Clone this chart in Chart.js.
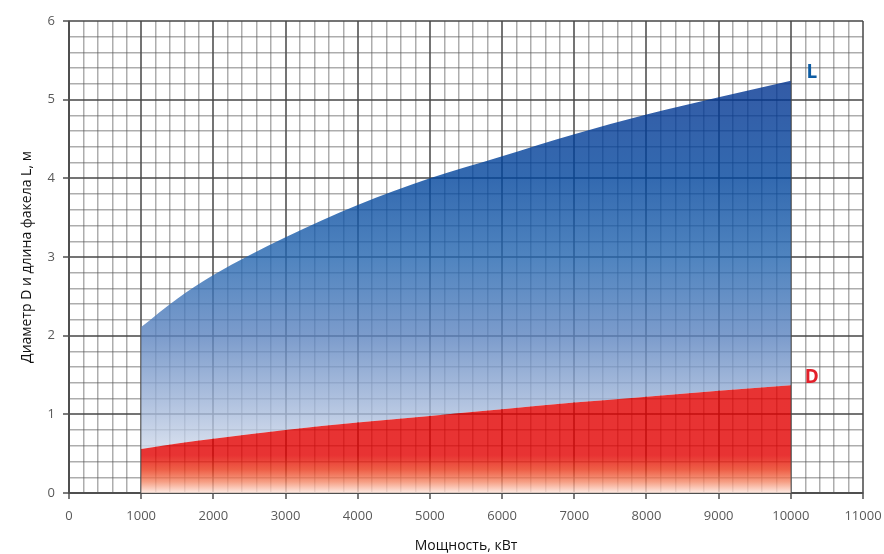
<!DOCTYPE html>
<html>
<head>
<meta charset="utf-8">
<script src="https://cdn.jsdelivr.net/npm/chart.js@4.4.1/dist/chart.umd.min.js"></script>
<style>
  html, body { margin: 0; padding: 0; background: #ffffff; }
  #wrap { width: 884px; height: 554px; position: relative; }
</style>
</head>
<body>
<div id="wrap"><canvas id="c" width="884" height="554"></canvas></div>
<script>
// Power, kW
const power = [1000, 1500, 2000, 3000, 4000, 5000, 6000, 7000, 8000, 9000, 10000];
// Flame length L, m
const lengthL = [2.11, 2.47, 2.77, 3.25, 3.66, 4.0, 4.28, 4.56, 4.81, 5.03, 5.24];
// Flame diameter D, m
const diameterD = [0.56, 0.63, 0.69, 0.80, 0.895, 0.98, 1.065, 1.15, 1.225, 1.30, 1.37];
const xTickLabels = ['0','1000','2000','3000','4000','5000','6000','7000','8000','9000','10000','11000'];
const yTickLabels = ['0','1','2','3','4','5','6'];
const seriesNames = ['L', 'D'];

const FILL_ALPHA = 0.8;

function isMajor(v, step) {
  const r = v / step;
  return Math.abs(r - Math.round(r)) < 1e-6;
}

// translucent colour that looks like `hex` over white, so the grid shows through
function seeThrough(hex) {
  const n = parseInt(hex.slice(1), 16);
  const ch = [(n >> 16) & 255, (n >> 8) & 255, n & 255].map(t =>
    Math.round(Math.max(0, Math.min(255, (t - 255 * (1 - FILL_ALPHA)) / FILL_ALPHA))));
  return `rgba(${ch[0]},${ch[1]},${ch[2]},${FILL_ALPHA})`;
}

function makeGradient(ctx, stops) {
  const chart = ctx.chart;
  const area = chart.chartArea;
  if (!area) return null;
  const y = chart.scales.y;
  const top = y.getPixelForValue(stops[0][0]);
  const bot = y.getPixelForValue(stops[stops.length - 1][0]);
  const g = chart.ctx.createLinearGradient(0, top, 0, bot);
  for (const [v, c] of stops) {
    const p = (y.getPixelForValue(v) - top) / (bot - top);
    g.addColorStop(Math.min(1, Math.max(0, p)), seeThrough(c));
  }
  return g;
}

const blueStops = [[5.3, '#035aa5'], [4.0, '#2169b0'], [3.0, '#4f84bf'], [2.0, '#7c9ccc'], [1.0, '#bac9e3'], [0.5, '#dbe2ef'], [0, '#eef1f8']];
const redStops = [[1.4, '#e81f27'], [0.48, '#e81f27'], [0.3, '#ee5e46'], [0.15, '#f59b80'], [0, '#fdebe4']];

const MAJOR_COLOR = 'rgba(70,70,70,0.75)';
const MINOR_COLOR = 'rgba(80,80,80,0.47)';

const labelPlugin = {
  id: 'seriesLabels',
  afterDraw(chart) {
    const ctx = chart.ctx;
    const xs = chart.scales.x, ys = chart.scales.y;
    ctx.save();
    ctx.font = 'bold 19px "Open Sans", sans-serif';
    ctx.textAlign = 'center';
    ctx.textBaseline = 'middle';
    ctx.fillStyle = '#0d5ca3';
    ctx.fillText(seriesNames[0], xs.getPixelForValue(10290), ys.getPixelForValue(lengthL[lengthL.length - 1] + 0.11));
    ctx.fillStyle = '#e3202a';
    ctx.fillText(seriesNames[1], xs.getPixelForValue(10290), ys.getPixelForValue(diameterD[diameterD.length - 1] + 0.1));
    ctx.restore();
  }
};

const gridCfg = (step) => ({
  color: (c) => isMajor(c.tick.value, step) ? MAJOR_COLOR : MINOR_COLOR,
  lineWidth: (c) => isMajor(c.tick.value, step) ? 2 : 1.5,
  tickColor: (c) => isMajor(c.tick.value, step) ? 'rgba(90,90,90,0.8)' : 'rgba(0,0,0,0)',
  tickWidth: 2,
  tickLength: 6,
  drawTicks: true
});

new Chart(document.getElementById('c'), {
  type: 'line',
  data: {
    datasets: [
      {
        label: seriesNames[1],
        data: power.map((p, i) => ({ x: p, y: diameterD[i] })),
        borderWidth: 0,
        borderColor: 'rgba(0,0,0,0)',
        pointRadius: 0,
        cubicInterpolationMode: 'monotone',
        fill: 'origin',
        backgroundColor: (ctx) => makeGradient(ctx, redStops),
        order: 0
      },
      {
        label: seriesNames[0],
        data: power.map((p, i) => ({ x: p, y: lengthL[i] })),
        borderWidth: 0,
        borderColor: 'rgba(0,0,0,0)',
        pointRadius: 0,
        cubicInterpolationMode: 'monotone',
        fill: 0,
        backgroundColor: (ctx) => makeGradient(ctx, blueStops),
        order: 1
      }
    ]
  },
  options: {
    responsive: false,
    animation: false,
    layout: { padding: { left: 19, right: 21, top: 21, bottom: 0 } },
    plugins: {
      legend: { display: false },
      tooltip: { enabled: false }
    },
    scales: {
      x: {
        type: 'linear',
        min: 0,
        max: 11000,
        afterFit(s) { s.height = 61; s.paddingLeft = 0; s.paddingRight = 0; },
        ticks: {
          stepSize: 200,
          autoSkip: false,
          maxRotation: 0,
          padding: 9,
          color: '#595959',
          font: { family: '"Open Sans", sans-serif', size: 13 },
          callback: (v) => isMajor(v, 1000) ? xTickLabels[Math.round(v / 1000)] : ''
        },
        grid: gridCfg(1000),
        border: { display: true, color: 'rgba(70,70,70,0.8)', width: 2 },
        title: {
          display: true,
          text: 'Мощность, кВт',
          color: '#111',
          font: { family: '"Open Sans", sans-serif', size: 14 },
          padding: { top: 2, bottom: 0 }
        }
      },
      y: {
        type: 'linear',
        min: 0,
        max: 6,
        afterFit(s) { s.width = 50; s.paddingTop = 0; s.paddingBottom = 0; },
        ticks: {
          stepSize: 0.2,
          autoSkip: false,
          padding: 8,
          color: '#595959',
          font: { family: '"Open Sans", sans-serif', size: 13 },
          callback: (v) => isMajor(v, 1) ? yTickLabels[Math.round(v)] : ''
        },
        grid: gridCfg(1),
        border: { display: true, color: 'rgba(70,70,70,0.8)', width: 2 },
        title: {
          display: true,
          text: 'Диаметр D и длина факела L, м',
          color: '#111',
          font: { family: '"Open Sans", sans-serif', size: 14 },
          padding: { top: 0, bottom: 4 }
        }
      }
    }
  },
  plugins: [labelPlugin]
});
</script>
</body>
</html>
